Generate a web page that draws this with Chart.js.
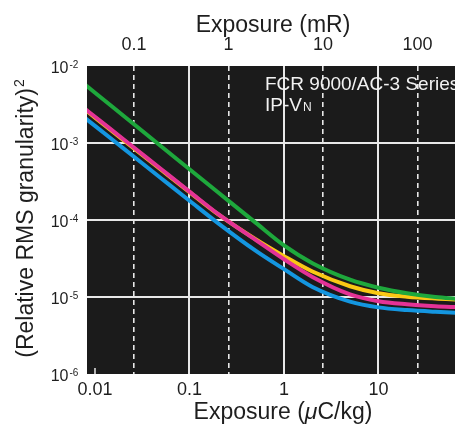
<!DOCTYPE html>
<html>
<head>
<meta charset="utf-8">
<script src="https://cdn.jsdelivr.net/npm/chart.js@4.4.0/dist/chart.umd.min.js"></script>
<style>
html, body { margin: 0; padding: 0; background: #fff; overflow: hidden; }
</style>
</head>
<body>
<canvas id="granularity" width="455" height="427"></canvas>
<script>
// ---------------------------- data ---------------------------- >>
const exposureUCkg = [0.008, 0.01, 0.02, 0.05, 0.1, 0.2, 0.5, 1, 2, 5, 10, 20, 40, 70];
const greenCurve   = [5.62e-3, 4.5e-3, 2.26e-3, 9.08e-4, 4.56e-4, 2.29e-4, 9.23e-5, 4.68e-5, 2.75e-5, 1.68e-5, 1.32e-5, 1.12e-5, 1.0e-5, 9.44e-6];
const yellowCurve  = [2.65e-3, 2.14e-3, 1.09e-3, 4.49e-4, 2.3e-4, 1.19e-4, 5.62e-5, 3.39e-5, 2.14e-5, 1.38e-5, 1.12e-5, 1.01e-5, 9.55e-6, 9.27e-6];
const magentaCurve = [2.72e-3, 2.19e-3, 1.12e-3, 4.59e-4, 2.34e-4, 1.2e-4, 5.51e-5, 3.09e-5, 1.82e-5, 1.08e-5, 8.81e-6, 8.04e-6, 7.59e-6, 7.36e-6];
const blueCurve    = [2.07e-3, 1.67e-3, 8.51e-4, 3.49e-4, 1.78e-4, 9.12e-5, 4.0e-5, 2.3e-5, 1.35e-5, 8.71e-6, 7.33e-6, 6.76e-6, 6.43e-6, 6.24e-6];

const bottomTicks = [0.01, 0.1, 1, 10];          // uC/kg
const bottomTickLabels = ['0.01', '0.1', '1', '10'];
const topTicks = [0.1, 1, 10, 100];              // mR
const topTickLabels = ['0.1', '1', '10', '100'];
const yTicks = [1e-2, 1e-3, 1e-4, 1e-5, 1e-6];
const yTickExponents = ['-2', '-3', '-4', '-5', '-6'];

const MR_IN_UCKG = 0.258;
const X_MIN = 0.00823, X_MAX = 64.5;
const FONT = '"Liberation Sans", Arial, Helvetica, sans-serif';

function pts(ys) {
    return exposureUCkg.map((x, i) => ({ x: x, y: ys[i] }));
}

function curve(data, color) {
    return {
        data: pts(data),
        borderColor: color,
        borderWidth: 4,
        pointRadius: 0,
        fill: false,
        cubicInterpolationMode: 'monotone'
    };
}

// ------------------------- text + frame ----------------------- >>
const decorations = {
    id: 'decorations',
    beforeDraw(chart) {
        const { ctx, chartArea: a } = chart;
        ctx.save();
        ctx.fillStyle = '#1b1b1b';
        ctx.fillRect(a.left, a.top, a.right - a.left, a.bottom - a.top);
        ctx.restore();
    },
    afterDraw(chart) {
        const { ctx, chartArea: a } = chart;
        const sx = chart.scales.x, sx2 = chart.scales.x2, sy = chart.scales.y;
        ctx.save();

        // little tick at 0.01
        ctx.strokeStyle = '#e8e8e8';
        ctx.lineWidth = 1.5;
        const p01 = sx.getPixelForValue(0.01);
        ctx.beginPath();
        ctx.moveTo(p01, a.bottom - 6);
        ctx.lineTo(p01, a.bottom);
        ctx.stroke();

        ctx.fillStyle = '#1e1e1e';
        ctx.textBaseline = 'alphabetic';

        // tick labels
        ctx.font = '18px ' + FONT;
        ctx.textAlign = 'center';
        bottomTicks.forEach((v, i) => ctx.fillText(bottomTickLabels[i], sx.getPixelForValue(v), 395));
        topTicks.forEach((v, i) => ctx.fillText(topTickLabels[i], sx2.getPixelForValue(v), 49.5));

        yTicks.forEach((v, i) => {
            const py = sy.getPixelForValue(v);
            ctx.font = '16px ' + FONT;
            ctx.textAlign = 'right';
            ctx.fillText('10', 68.5, py + 6.5);
            ctx.font = '10px ' + FONT;
            ctx.textAlign = 'left';
            ctx.fillText(yTickExponents[i], 69.5, py + 1.5);
        });

        // axis titles
        ctx.font = '23px ' + FONT;
        ctx.textAlign = 'center';
        ctx.fillText('Exposure (mR)', 273, 31.5);

        // bottom title with italic mu
        ctx.textAlign = 'left';
        const t1 = 'Exposure (', t2 = '\u03bc', t3 = 'C/kg)';
        ctx.font = '23px ' + FONT;
        const w1 = ctx.measureText(t1).width, w3 = ctx.measureText(t3).width;
        ctx.font = 'italic 23px ' + FONT;
        const w2 = ctx.measureText(t2).width;
        let bx = 283 - (w1 + w2 + w3) / 2;
        ctx.font = '23px ' + FONT;
        ctx.fillText(t1, bx, 419);
        ctx.font = 'italic 23px ' + FONT;
        ctx.fillText(t2, bx + w1, 419);
        ctx.font = '23px ' + FONT;
        ctx.fillText(t3, bx + w1 + w2, 419);

        // rotated y title
        ctx.save();
        ctx.translate(33, 218.5);
        ctx.rotate(-Math.PI / 2);
        ctx.font = '23px ' + FONT;
        const main = '(Relative RMS granularity)';
        const wm = ctx.measureText(main).width;
        ctx.font = '14px ' + FONT;
        const ws = ctx.measureText('2').width;
        const start = -(wm + ws + 1) / 2;
        ctx.font = '23px ' + FONT;
        ctx.fillText(main, start, 0);
        ctx.font = '14px ' + FONT;
        ctx.fillText('2', start + wm + 1, -9);
        ctx.restore();

        // annotation inside the plot
        ctx.fillStyle = '#f2f2f2';
        ctx.font = '19px ' + FONT;
        ctx.fillText('FCR 9000/AC-3 Series', 265, 89.5);
        ctx.fillText('IP-V', 265, 110.5);
        const wv = ctx.measureText('IP-V').width;
        ctx.font = '12px ' + FONT;
        ctx.fillText('N', 265 + wv + 1, 111);

        ctx.restore();
    }
};

// ----------------------------- chart -------------------------- >>
const ctx = document.getElementById('granularity').getContext('2d');
const granularityChart = new Chart(ctx, {
    type: 'line',
    data: {
        datasets: [
            curve(greenCurve, 'rgb(30, 168, 60)'),
            curve(magentaCurve, 'rgb(228, 50, 150)'),
            curve(yellowCurve, 'rgb(250, 200, 20)'),
            curve(blueCurve, 'rgb(20, 150, 224)')
        ]
    },
    options: {
        responsive: false,
        animation: false,
        events: [],
        layout: { padding: 0 },
        plugins: { legend: { display: false }, tooltip: { enabled: false } },
        scales: {
            x: {
                type: 'logarithmic',
                position: 'bottom',
                min: X_MIN,
                max: X_MAX,
                afterBuildTicks: s => { s.ticks = [0.1, 1, 10].map(v => ({ value: v })); },
                afterFit: s => { s.height = 53; },
                ticks: { display: false },
                grid: { color: '#e8e8e8', lineWidth: 2, drawTicks: false },
                border: { display: false }
            },
            x2: {
                type: 'logarithmic',
                position: 'top',
                min: X_MIN / MR_IN_UCKG,
                max: X_MAX / MR_IN_UCKG,
                afterBuildTicks: s => { s.ticks = topTicks.map(v => ({ value: v })); },
                afterFit: s => { s.height = 66; },
                ticks: { display: false },
                grid: { color: '#e8e8e8', lineWidth: 1.6, drawTicks: false },
                border: { display: false, dash: [5, 4] }
            },
            y: {
                type: 'logarithmic',
                position: 'left',
                min: 1e-6,
                max: 1e-2,
                afterBuildTicks: s => { s.ticks = [1e-3, 1e-4, 1e-5].map(v => ({ value: v })); },
                afterFit: s => { s.width = 87; },
                ticks: { display: false },
                grid: { color: '#e8e8e8', lineWidth: 2, drawTicks: false },
                border: { display: false }
            }
        }
    },
    plugins: [decorations]
});
</script>
</body>
</html>
